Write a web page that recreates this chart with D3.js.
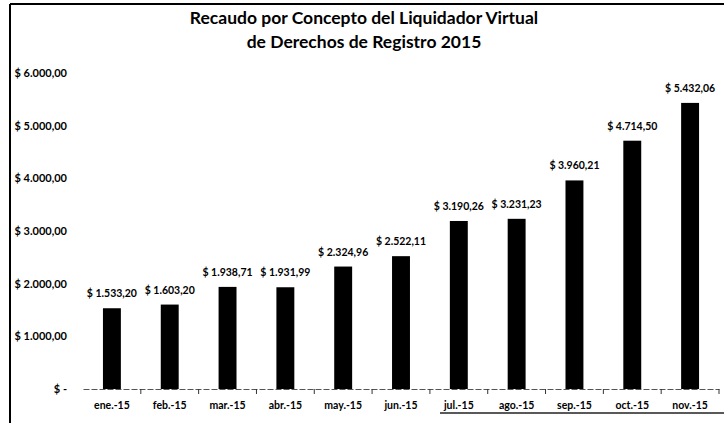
<!DOCTYPE html>
<html>
<head>
<meta charset="utf-8">
<script src="https://cdn.jsdelivr.net/npm/d3@7"></script>
<style>
  body { margin: 0; background: #fff; }
  text { font-family: Lato, "Open Sans", sans-serif; fill: #000; }
</style>
</head>
<body>
<script>
// months and amounts (millions of pesos)
var months = ["ene.-15", "feb.-15", "mar.-15", "abr.-15", "may.-15", "jun.-15",
  "jul.-15", "ago.-15", "sep.-15", "oct.-15", "nov.-15"]
var recaudo = [1533.20, 1603.20, 1938.71, 1931.99, 2324.96, 2522.11,
  3190.26, 3231.23, 3960.21, 4714.50, 5432.06]
var yTicks = [0, 1000, 2000, 3000, 4000, 5000, 6000]
var titleLines = ["Recaudo por Concepto del Liquidador Virtual", "de Derechos de Registro 2015"]

var w = 724, h = 423

var svg = d3.select("body").append("svg")
  .attr("width", w)
  .attr("height", h)

// number format like 1.533,20
var esFormat = d3.formatLocale({ decimal: ",", thousands: ".", grouping: [3], currency: ["$ ", ""] })
var fmt = esFormat.format(",.2f")
function money(v) { return v === 0 ? "$ -" : "$ " + fmt(v) }

// frame of the chart
svg.append("line").attr("x1", 10).attr("x2", 10).attr("y1", 4).attr("y2", 423)
  .attr("stroke", "#000").attr("stroke-width", 2)
svg.append("line").attr("x1", 10).attr("x2", 724).attr("y1", 4).attr("y2", 4)
  .attr("stroke", "#000").attr("stroke-width", 2)
svg.append("line").attr("x1", 440).attr("x2", 724).attr("y1", 413).attr("y2", 413)
  .attr("stroke", "#222").attr("stroke-width", 1.5)

// title
svg.selectAll(".title")
  .data(titleLines)
  .enter().append("text")
  .attr("class", "title")
  .attr("x", 364)
  .attr("y", function(d, i) { return 24 + i * 24 })
  .attr("text-anchor", "middle")
  .attr("font-size", 17.5)
  .attr("font-weight", "bold")
  .text(function(d) { return d })

// scales
var x = d3.scaleBand()
  .domain(months)
  .range([83, 719])
  .paddingInner(0.69)
  .paddingOuter(0.345)

var y = d3.scaleLinear()
  .domain([0, 6000])
  .range([389, 73])

// y axis labels
svg.append("g")
  .attr("transform", "translate(70,0)")
  .call(d3.axisLeft(y).tickValues(yTicks).tickSize(0).tickFormat(money))
  .call(function(g) { g.select(".domain").remove() })
  .selectAll("text")
  .attr("font-family", "Lato, sans-serif")
  .attr("font-size", 11)
  .attr("font-weight", "bold")
  .attr("fill", "#000")

// bars
svg.selectAll(".bar")
  .data(recaudo)
  .enter().append("rect")
  .attr("class", "bar")
  .attr("x", function(d, i) { return x(months[i]) })
  .attr("y", function(d) { return y(d) })
  .attr("width", x.bandwidth())
  .attr("height", function(d) { return y(0) - y(d) })
  .attr("fill", "#000")

// value labels
svg.selectAll(".val")
  .data(recaudo)
  .enter().append("text")
  .attr("class", "val")
  .attr("x", function(d, i) { return x(months[i]) + x.bandwidth() / 2 })
  .attr("y", function(d) { return y(d) - 11 })
  .attr("text-anchor", "middle")
  .attr("font-size", 10.5)
  .attr("font-weight", "bold")
  .text(function(d) { return money(d) })

// x axis
var xAxis = svg.append("g")
  .attr("transform", "translate(0," + y(0) + ")")
  .call(d3.axisBottom(x).tickSize(0).tickPadding(13))
xAxis.select(".domain").attr("stroke", "#555").attr("stroke-dasharray", "6,2")
xAxis.selectAll("text")
  .attr("font-family", "Lato, sans-serif")
  .attr("font-size", 10.5)
  .attr("font-weight", "bold")
  .attr("fill", "#000")

// small ticks between categories
svg.selectAll(".sep")
  .data(months)
  .enter().append("line")
  .attr("class", "sep")
  .attr("x1", function(d) { return x(d) + x.bandwidth() / 2 + x.step() / 2 })
  .attr("x2", function(d) { return x(d) + x.bandwidth() / 2 + x.step() / 2 })
  .attr("y1", y(0))
  .attr("y2", y(0) + 5)
  .attr("stroke", "#333")
</script>
</body>
</html>
